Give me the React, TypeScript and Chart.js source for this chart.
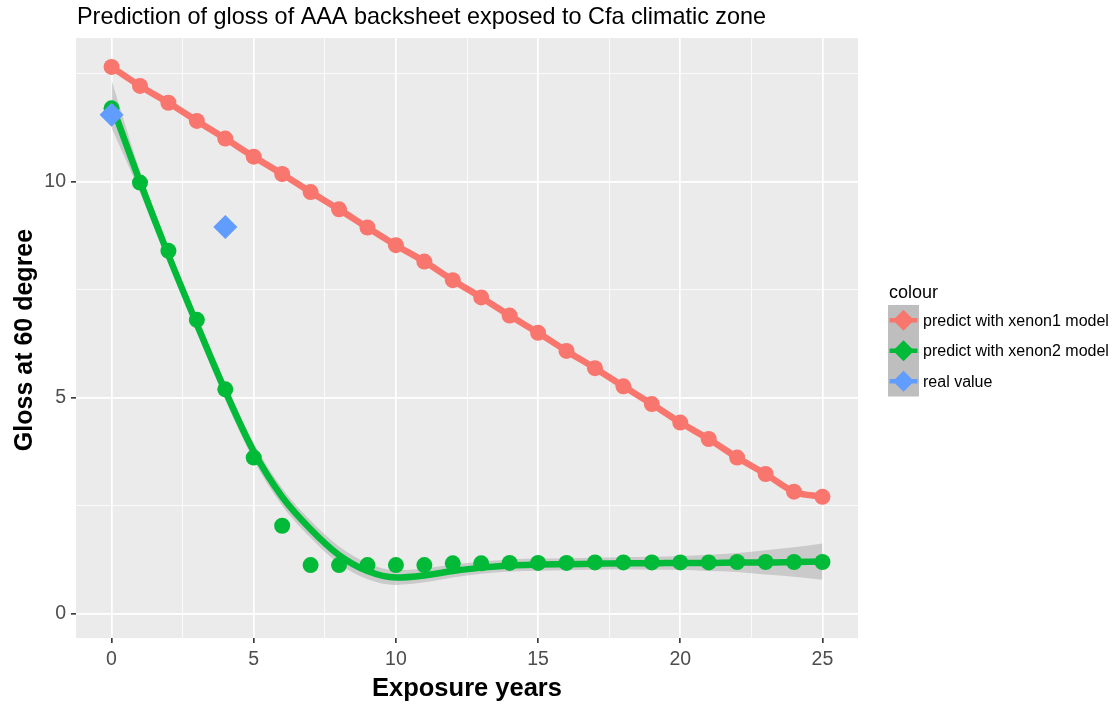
import React, { useEffect, useRef } from 'react';
import { Chart, registerables } from 'chart.js';

Chart.register(...registerables);

const years = [0, 1, 2, 3, 4, 5, 6, 7, 8, 9, 10, 11, 12, 13, 14, 15, 16, 17, 18, 19, 20, 21, 22, 23, 24, 25];
const xenon1 = [12.66, 12.22, 11.83, 11.41, 11.0, 10.58, 10.18, 9.76, 9.36, 8.94, 8.53, 8.15, 7.72, 7.32, 6.9, 6.5, 6.08, 5.68, 5.26, 4.85, 4.42, 4.04, 3.61, 3.23, 2.82, 2.7];
const xenon2 = [11.7, 9.98, 8.4, 6.8, 5.19, 3.61, 2.03, 1.12, 1.12, 1.12, 1.12, 1.12, 1.16, 1.16, 1.17, 1.17, 1.17, 1.18, 1.18, 1.18, 1.18, 1.18, 1.19, 1.19, 1.19, 1.19];
const xenon2Fit = [11.8, 10.0, 8.3, 6.7, 5.15, 3.75, 2.7, 1.95, 1.35, 0.98, 0.83, 0.88, 0.98, 1.06, 1.11, 1.13, 1.14, 1.15, 1.16, 1.16, 1.17, 1.17, 1.18, 1.18, 1.19, 1.2];
const xenon2Upper = [12.35, 10.25, 8.5, 6.9, 5.35, 3.95, 2.9, 2.15, 1.55, 1.17, 1.0, 1.04, 1.13, 1.2, 1.25, 1.27, 1.28, 1.29, 1.3, 1.31, 1.33, 1.36, 1.4, 1.46, 1.53, 1.62];
const xenon2Lower = [11.25, 9.75, 8.1, 6.5, 4.95, 3.55, 2.5, 1.75, 1.15, 0.79, 0.66, 0.72, 0.83, 0.92, 0.97, 0.99, 1.0, 1.01, 1.02, 1.01, 1.01, 0.98, 0.96, 0.9, 0.85, 0.78];
const realYears = [0, 4];
const realValues = [11.55, 8.95];

const xTickValues = [0, 2.5, 5, 7.5, 10, 12.5, 15, 17.5, 20, 22.5, 25];
const xTickLabels = [0, 5, 10, 15, 20, 25];
const yTickValues = [0, 2.5, 5, 7.5, 10, 12.5];
const yTickLabels = [0, 5, 10];

const chartTitle = 'Prediction of gloss of AAA backsheet exposed to Cfa climatic zone';
const xTitle = 'Exposure years';
const yTitle = 'Gloss at 60 degree';
const legendTitle = 'colour';
const legendLabels = ['predict with xenon1 model', 'predict with xenon2 model', 'real value'];

const RED = '#F8766D';
const GREEN = '#00BA38';
const BLUE = '#619CFF';
const legendColors = [RED, GREEN, BLUE];
const FONT = '"Liberation Sans", Arial, sans-serif';

const toXY = (xs: number[], ys: number[]) => xs.map((x, i) => ({ x, y: ys[i] }));

const panelPlugin = {
  id: 'panelBg',
  beforeDraw(chart: any) {
    const { ctx, chartArea: a } = chart;
    ctx.save();
    ctx.fillStyle = '#EBEBEB';
    ctx.fillRect(a.left, a.top, a.right - a.left, a.bottom - a.top);
    ctx.restore();
  },
  afterDraw(chart: any) {
    const { ctx, chartArea: a } = chart;
    ctx.save();
    // title
    ctx.fillStyle = '#000';
    ctx.font = `23.4px ${FONT}`;
    ctx.textAlign = 'left';
    ctx.textBaseline = 'alphabetic';
    ctx.fillText(chartTitle, a.left + 1, 24);
    // x title
    ctx.font = `bold 25.5px ${FONT}`;
    ctx.textAlign = 'center';
    ctx.fillText(xTitle, (a.left + a.right) / 2, 696);
    // y title
    ctx.save();
    ctx.font = `bold 25px ${FONT}`;
    ctx.translate(32, (a.top + a.bottom) / 2 + 2);
    ctx.rotate(-Math.PI / 2);
    ctx.fillText(yTitle, 0, 0);
    ctx.restore();
    // legend
    ctx.textAlign = 'left';
    ctx.font = `18px ${FONT}`;
    ctx.fillText(legendTitle, 889, 298);
    const boxX = 888, boxW = 31, rowH = 30.5, boxY = 305;
    ctx.fillStyle = '#BEBEBE';
    ctx.fillRect(boxX, boxY, boxW, rowH * 3);
    legendLabels.forEach((lab, i) => {
      const cy = boxY + rowH * i + rowH / 2;
      const cx = boxX + boxW / 2;
      ctx.strokeStyle = legendColors[i];
      ctx.lineWidth = 4.5;
      ctx.beginPath();
      ctx.moveTo(boxX + 1.5, cy);
      ctx.lineTo(boxX + boxW - 1.5, cy);
      ctx.stroke();
      ctx.fillStyle = legendColors[i];
      const r = 10.5;
      ctx.beginPath();
      ctx.moveTo(cx - r, cy);
      ctx.lineTo(cx, cy - r);
      ctx.lineTo(cx + r, cy);
      ctx.lineTo(cx, cy + r);
      ctx.closePath();
      ctx.fill();
      ctx.fillStyle = '#000';
      ctx.font = `16px ${FONT}`;
      ctx.textBaseline = 'middle';
      ctx.fillText(lab, 923, cy + 1);
      ctx.textBaseline = 'alphabetic';
    });
    ctx.restore();
  },
};

export default function App() {
  const ref = useRef<HTMLCanvasElement>(null);
  useEffect(() => {
    if (!ref.current) return;
    const isMajorX = (v: number) => xTickLabels.includes(v);
    const isMajorY = (v: number) => yTickLabels.includes(v);
    const chart = new Chart(ref.current, {
      type: 'scatter',
      data: {
        datasets: [
          {
            label: 'upper',
            data: toXY(years, xenon2Upper),
            showLine: true,
            borderWidth: 0,
            borderColor: 'rgba(0,0,0,0)',
            pointRadius: 0,
            cubicInterpolationMode: 'monotone',
            fill: '+1',
            backgroundColor: 'rgba(153,153,153,0.4)',
            order: 6,
          },
          {
            label: 'lower',
            data: toXY(years, xenon2Lower),
            showLine: true,
            borderWidth: 0,
            borderColor: 'rgba(0,0,0,0)',
            pointRadius: 0,
            cubicInterpolationMode: 'monotone',
            fill: false,
            order: 7,
          },
          {
            label: 'xenon2 fit',
            data: toXY(years, xenon2Fit),
            showLine: true,
            borderColor: GREEN,
            borderWidth: 6.5,
            pointRadius: 0,
            cubicInterpolationMode: 'monotone',
            order: 4,
          },
          {
            label: 'xenon2 points',
            data: toXY(years, xenon2),
            showLine: false,
            pointRadius: 8,
            pointBackgroundColor: GREEN,
            pointBorderWidth: 0,
            order: 3,
          },
          {
            label: legendLabels[0],
            data: toXY(years, xenon1),
            showLine: true,
            borderColor: RED,
            borderWidth: 6.5,
            cubicInterpolationMode: 'monotone',
            pointRadius: 8,
            pointBackgroundColor: RED,
            pointBorderWidth: 0,
            order: 2,
          },
          {
            label: legendLabels[2],
            data: toXY(realYears, realValues),
            showLine: false,
            pointStyle: 'rectRot',
            pointRadius: 12,
            pointBackgroundColor: BLUE,
            pointBorderWidth: 0,
            order: 1,
          },
        ],
      },
      options: {
        animation: false,
        responsive: false,
        events: [],
        layout: { padding: { left: 0, top: 38, right: 257, bottom: 0 } },
        plugins: { legend: { display: false }, title: { display: false }, tooltip: { enabled: false } },
        scales: {
          x: {
            type: 'linear',
            min: -1.25,
            max: 26.25,
            afterBuildTicks: (s: any) => {
              s.ticks = xTickValues.map((v) => ({ value: v }));
            },
            afterFit: (s: any) => {
              s.height = 66;
            },
            ticks: {
              autoSkip: false,
              maxRotation: 0,
              padding: 5,
              color: '#4D4D4D',
              font: { family: FONT, size: 19.5 },
              callback: (v: any) => (isMajorX(Number(v)) ? String(v) : ''),
            },
            grid: {
              color: '#FFFFFF',
              lineWidth: (c: any) => (c.tick && isMajorX(c.tick.value) ? 1.7 : 0.8),
              tickColor: (c: any) => (c.tick && isMajorX(c.tick.value) ? '#333333' : 'rgba(0,0,0,0)'),
              tickWidth: 1.6,
              tickLength: 5,
              drawTicks: true,
            },
            border: { display: false },
          },
          y: {
            type: 'linear',
            min: -0.57,
            max: 13.33,
            afterBuildTicks: (s: any) => {
              s.ticks = yTickValues.map((v) => ({ value: v }));
            },
            afterFit: (s: any) => {
              s.width = 76;
            },
            ticks: {
              autoSkip: false,
              padding: 5,
              color: '#4D4D4D',
              font: { family: FONT, size: 19.5 },
              callback: (v: any) => (isMajorY(Number(v)) ? String(v) : ''),
            },
            grid: {
              color: '#FFFFFF',
              lineWidth: (c: any) => (c.tick && isMajorY(c.tick.value) ? 1.7 : 0.8),
              tickColor: (c: any) => (c.tick && isMajorY(c.tick.value) ? '#333333' : 'rgba(0,0,0,0)'),
              tickWidth: 1.6,
              tickLength: 5,
              drawTicks: true,
            },
            border: { display: false },
          },
        },
      } as any,
      plugins: [panelPlugin],
    });
    return () => chart.destroy();
  }, []);
  return (
    <div style={{ position: 'absolute', left: 0, top: 0, width: 1115, height: 704, background: '#fff' }}>
      <canvas ref={ref} width={1115} height={704} style={{ display: 'block' }} />
    </div>
  );
}
